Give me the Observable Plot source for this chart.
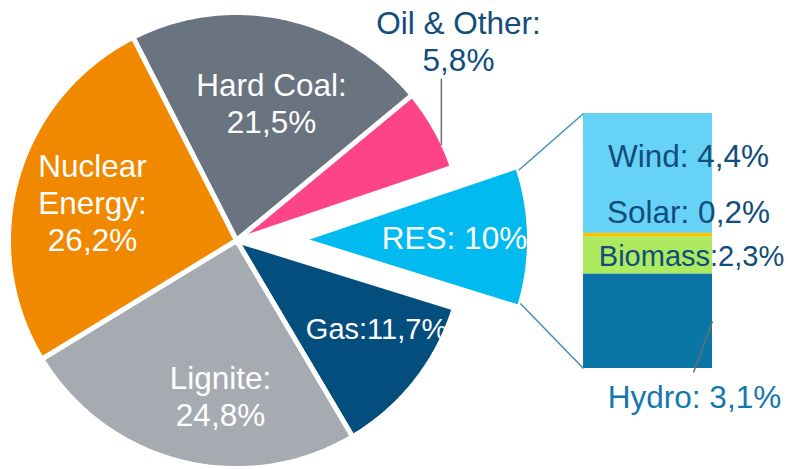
<!DOCTYPE html>
<html><head><meta charset="utf-8">
<script src="https://cdn.jsdelivr.net/npm/d3@7"></script>
<script src="https://cdn.jsdelivr.net/npm/@observablehq/plot@0.6"></script>
<style>html,body{margin:0;padding:0;background:#fff;overflow:hidden}</style>
</head><body><div id="chart"></div>
<script>
// ---- data ----
const sources = ["Hard Coal", "Oil & Other", "RES", "Gas", "Lignite", "Nuclear Energy"];
const shares = [21.5, 5.8, 10, 11.7, 24.8, 26.2];
const sliceLabels = ["Hard Coal:\n21,5%", "Oil & Other:\n5,8%", "RES: 10%", "Gas:11,7%", "Lignite:\n24,8%", "Nuclear\nEnergy:\n26,2%"];
const sliceColors = ["#6a7380", "#fe4488", "#00baf0", "#034e7d", "#a6abb2", "#f08800"];
const resParts = ["Wind", "Solar", "Biomass", "Hydro"];
const resValues = [4.4, 0.2, 2.3, 3.1];          // as labelled
const resDrawn = [4.7, 0.15, 1.45, 3.7];          // segment heights as drawn in the reference bar
const resLabels = ["Wind: 4,4%", "Solar: 0,2%", "Biomass:2,3%", "Hydro: 3,1%"];
const resColors = ["#66d3f6", "#ffc000", "#aeea5f", "#0a76a5"];

// ---- layout ----
const W = 788, H = 469;
const cx = 236, cy = 240, R = 228, startDeg = -27;
const explode = {"RES": 65};
const rad = d => d * Math.PI / 180;
const bar = {x1: 583, x2: 712, y1: 113, y2: 368};

// pie slices as polygons
const slices = [];
let cum = 0;
sources.forEach((s, i) => {
  const a0 = startDeg + cum * 3.6, a1 = a0 + shares[i] * 3.6;
  cum += shares[i];
  const mid = (a0 + a1) / 2, off = explode[s] || 0;
  const ox = cx + off * Math.sin(rad(mid)), oy = cy - off * Math.cos(rad(mid));
  const pts = [{key: s, x: ox, y: oy}];
  const n = Math.max(4, Math.ceil((a1 - a0) / 0.5));
  for (let k = 0; k <= n; ++k) {
    const a = a0 + (a1 - a0) * k / n;
    pts.push({key: s, x: ox + R * Math.sin(rad(a)), y: oy - R * Math.cos(rad(a))});
  }
  pts.push({key: s, x: ox, y: oy});
  slices.push({name: s, color: sliceColors[i], pts, a0, a1, ox, oy});
});
const at = (sl, a, r) => ({x: sl.ox + r * Math.sin(rad(a)), y: sl.oy - r * Math.cos(rad(a))});

// stacked bar for RES breakdown
const yBar = d3.scaleLinear().domain([0, d3.sum(resDrawn)]).range([bar.y1, bar.y2]);
let c2 = 0;
const segs = resParts.map((p, i) => {
  const s = {part: p, top: yBar(c2), bottom: yBar(c2 + resDrawn[i]), color: resColors[i]};
  c2 += resDrawn[i];
  return s;
});

const res = slices[2], oil = slices[1];
const resTop = at(res, res.a0 + 1, R), resBot = at(res, res.a1 - 1, R);
const links = [
  {x1: resTop.x, y1: resTop.y, x2: bar.x1, y2: bar.y1},
  {x1: resBot.x, y1: resBot.y, x2: bar.x1, y2: bar.y2}
];
const oilPt = at(oil, oil.a0 + 0.7 * (oil.a1 - oil.a0), R - 2);
const hydro = segs[3];
const leaders = [
  {x1: oilPt.x, y1: oilPt.y, x2: oilPt.x, y2: 78},
  {x1: bar.x2, y1: (hydro.top + hydro.bottom) / 2, x2: 693, y2: 372}
];

// label placements (x centre, last-line baseline)
const pieText = [
  {t: sliceLabels[0], x: 271, y: 132, fill: "white", size: 31.5},
  {t: sliceLabels[1], x: 458, y: 70, fill: "#114d7c", size: 31.5},
  {t: sliceLabels[2], x: 454, y: 248, fill: "white", size: 31.5},
  {t: sliceLabels[3], x: 376, y: 338, fill: "white", size: 29},
  {t: sliceLabels[4], x: 220, y: 425, fill: "white", size: 31.5},
  {t: sliceLabels[5], x: 92, y: 250, fill: "white", size: 31.5}
];
const barText = [
  {t: resLabels[0], x: 688, y: 166, fill: "#114d7c", size: 31.5},
  {t: resLabels[1], x: 688, y: 222, fill: "#114d7c", size: 31.5},
  {t: resLabels[2], x: 691, y: 265, fill: "#114d7c", size: 29},
  {t: resLabels[3], x: 694, y: 407, fill: "#1478ad", size: 31.5}
];

const marks = [];
slices.forEach(sl => {
  marks.push(Plot.line(sl.pts, {x: "x", y: "y", fill: sl.color, stroke: "white", strokeWidth: 5, strokeLinejoin: "miter"}));
});
marks.push(Plot.rect(segs, {x1: () => bar.x1, x2: () => bar.x2, y1: "top", y2: "bottom", fill: "color"}));
marks.push(Plot.link(links, {x1: "x1", y1: "y1", x2: "x2", y2: "y2", stroke: "#3f8fbf", strokeWidth: 1.5}));
marks.push(Plot.link(leaders, {x1: "x1", y1: "y1", x2: "x2", y2: "y2", stroke: "#6e6e6e", strokeWidth: 1.5}));
[...pieText, ...barText].forEach(d => {
  marks.push(Plot.text([d], {x: "x", y: "y", text: "t", fill: d.fill, fontSize: d.size,
    lineAnchor: "bottom", lineHeight: 37 / d.size, textAnchor: "middle"}));
});

const chart = Plot.plot({
  width: W, height: H,
  margin: 0,
  x: {domain: [0, W], range: [0, W], axis: null},
  y: {domain: [0, H], range: [0, H], axis: null},
  color: {type: "identity"},
  style: {fontFamily: "'Liberation Sans', Arial, sans-serif", background: "white"},
  marks
});
document.getElementById("chart").appendChild(chart);
</script>
</body></html>
